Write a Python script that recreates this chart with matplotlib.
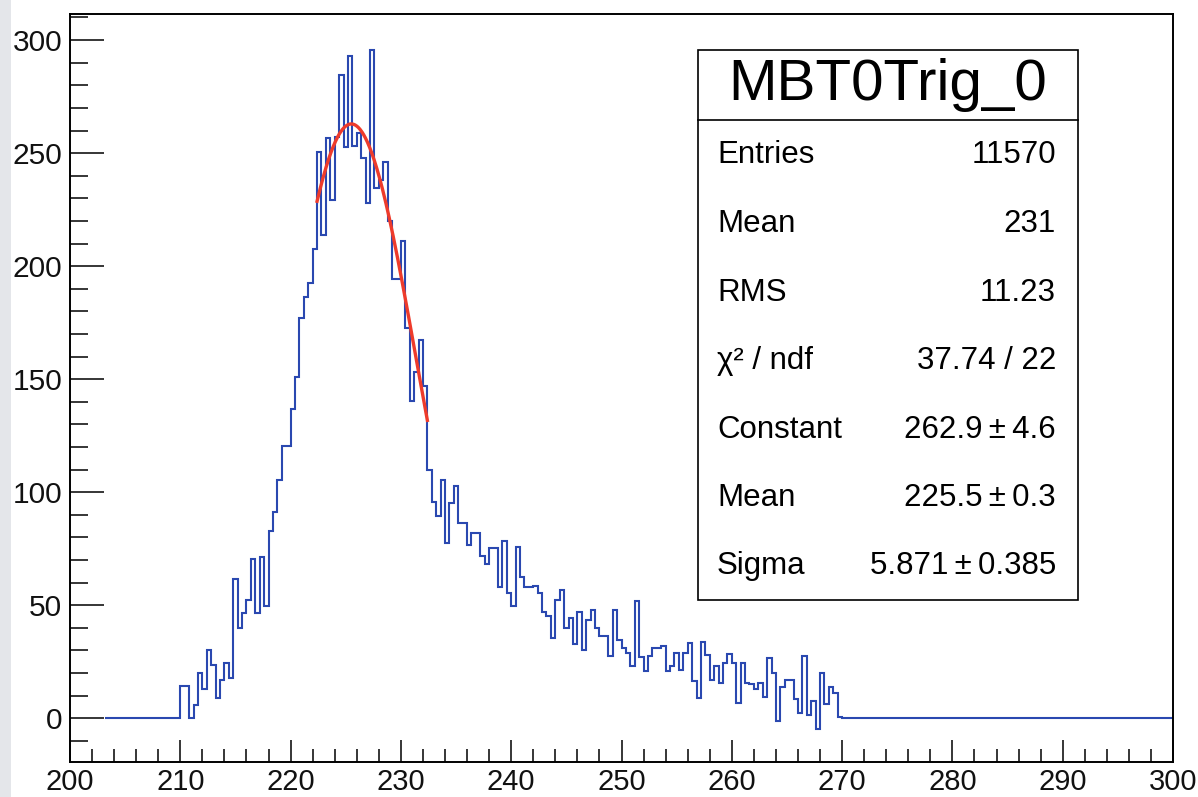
import numpy as np
import matplotlib
matplotlib.use("Agg")
import matplotlib.pyplot as plt
from matplotlib.patches import Rectangle
from matplotlib.lines import Line2D
from matplotlib.ticker import MultipleLocator

plt.rcParams['font.family'] = ['Liberation Sans', 'DejaVu Sans']

# histogram binning (0.4 wide bins, drawn from 203.2 to 300)
bin_width = 0.4
first_edge = 203.2
n_empty_low = 17     # 203.2 .. 210.0
n_empty_high = 75    # 270.0 .. 300.0

# bin contents from 210.0 to 270.0
counts = [
    14.4, 14.4, 0.0, 5.9, 19.9, 12.8, 30.2, 23.6, 9.1, 16.9,
    24.3, 18.0, 61.6, 40.1, 46.7, 52.3, 70.5, 46.8, 71.2, 49.7,
    82.8, 91.4, 105.4, 120.4, 120.4, 136.8, 151.1, 176.9, 186.5, 192.7,
    207.4, 250.3, 213.8, 256.5, 229.2, 257.2, 284.5, 252.8, 292.9, 253.1,
    259.0, 247.7, 227.8, 295.6, 234.4, 238.0, 246.0, 220.0, 194.5, 194.5,
    211.1, 172.6, 140.4, 153.0, 167.4, 147.0, 109.8, 95.8, 89.6, 105.4,
    77.4, 95.1, 102.7, 86.5, 86.5, 76.6, 81.8, 81.8, 71.9, 68.2,
    75.5, 75.5, 58.2, 78.5, 55.5, 49.6, 75.9, 62.6, 57.9, 57.9,
    58.5, 55.6, 47.2, 45.4, 35.4, 52.3, 56.7, 39.8, 44.5, 32.9,
    46.9, 30.2, 43.5, 47.9, 39.8, 36.5, 36.5, 27.7, 47.9, 34.6,
    31.0, 28.7, 23.3, 52.0, 26.9, 21.0, 27.4, 31.3, 31.3, 32.0,
    20.8, 23.3, 28.9, 21.5, 28.7, 33.3, 16.4, 9.2, 33.9, 27.8,
    17.0, 23.3, 15.6, 24.6, 28.4, 24.3, 6.9, 24.3, 15.7, 15.2,
    12.8, 15.7, 9.6, 26.5, 20.2, -1.0, 13.7, 16.9, 16.9, 8.4,
    2.2, 27.6, 1.5, 7.8, -4.8, 19.9, 6.5, 13.7, 11.3, 0.6,
]

# gaussian fit result
fit_const = 262.9
fit_mean = 225.5
fit_sigma = 5.871
fit_range = (222.4, 232.4)

stat_labels = ['Entries', 'Mean', 'RMS', '\u03c7\u00b2 / ndf', 'Constant', 'Mean', 'Sigma']
stat_values = ['11570', '231', '11.23', '37.74 / 22',
               '262.9\u2009\u00b1\u20094.6', '225.5\u2009\u00b1\u20090.3',
               '5.871\u2009\u00b1\u20090.385']
hist_name = 'MBT0Trig_0'

values = np.concatenate([np.zeros(n_empty_low), counts, np.zeros(n_empty_high)])
edges = first_edge + bin_width * np.arange(len(values) + 1)

W, H = 1198, 797
fig = plt.figure(figsize=(W / 100, H / 100), dpi=100)
fig.patches.append(Rectangle((0, 0), 11 / W, 1, transform=fig.transFigure,
                             facecolor='#e4e6ea', edgecolor='none', zorder=0))

ax = fig.add_axes([70 / W, 1 - 762.3 / H, 1103 / W, 748 / H])
ax.set_xlim(200, 300)
ax.set_ylim(-19.46, 311.4)

ax.stairs(values, edges, baseline=None, color='#2a48b0', lw=1.5, zorder=2)

xf = np.linspace(fit_range[0], fit_range[1], 200)
yf = fit_const * np.exp(-0.5 * ((xf - fit_mean) / fit_sigma) ** 2)
ax.plot(xf, yf, color='#ee3b2b', lw=2.4, zorder=3)

for s in ax.spines.values():
    s.set_linewidth(1.4)
    s.set_color('black')

ax.xaxis.set_major_locator(MultipleLocator(10))
ax.xaxis.set_minor_locator(MultipleLocator(2))
ax.yaxis.set_major_locator(MultipleLocator(50))
ax.yaxis.set_minor_locator(MultipleLocator(10))
ax.tick_params(axis='x', which='major', direction='in', length=15.8, width=1.1,
               labelsize=21, pad=4, top=False)
ax.tick_params(axis='x', which='minor', direction='in', length=9.4, width=1.1, top=False)
ax.tick_params(axis='y', which='major', direction='in', length=24.5, width=1.1,
               labelsize=21.5, pad=5.5, right=False)
ax.tick_params(axis='y', which='minor', direction='in', length=13, width=1.1, right=False)
for lab in ax.get_xticklabels() + ax.get_yticklabels():
    lab.set_color('#111111')

# statistics box
bx0, bx1 = 698 / W, 1078 / W
by_top, by_bot, by_sep = 1 - 50 / H, 1 - 600 / H, 1 - 120 / H
fig.patches.append(Rectangle((bx0, by_bot), bx1 - bx0, by_top - by_bot,
                             transform=fig.transFigure, facecolor='white',
                             edgecolor='black', lw=1.2, zorder=5))
fig.lines.append(Line2D([bx0, bx1], [by_sep, by_sep], transform=fig.transFigure,
                        color='black', lw=1.2, zorder=6))
fig.text((bx0 + bx1) / 2, 1 - 85 / H, hist_name, ha='center', va='center',
         fontsize=42, zorder=7)

row_y = [155, 224, 293, 361, 430, 498, 566]
for lab, val, yy in zip(stat_labels, stat_values, row_y):
    fig.text(717 / W, 1 - yy / H, lab, ha='left', va='center', fontsize=22.5, zorder=7)
    fig.text(1056 / W, 1 - yy / H, val, ha='right', va='center', fontsize=22.5, zorder=7)

fig.savefig('out.png', dpi=100)
